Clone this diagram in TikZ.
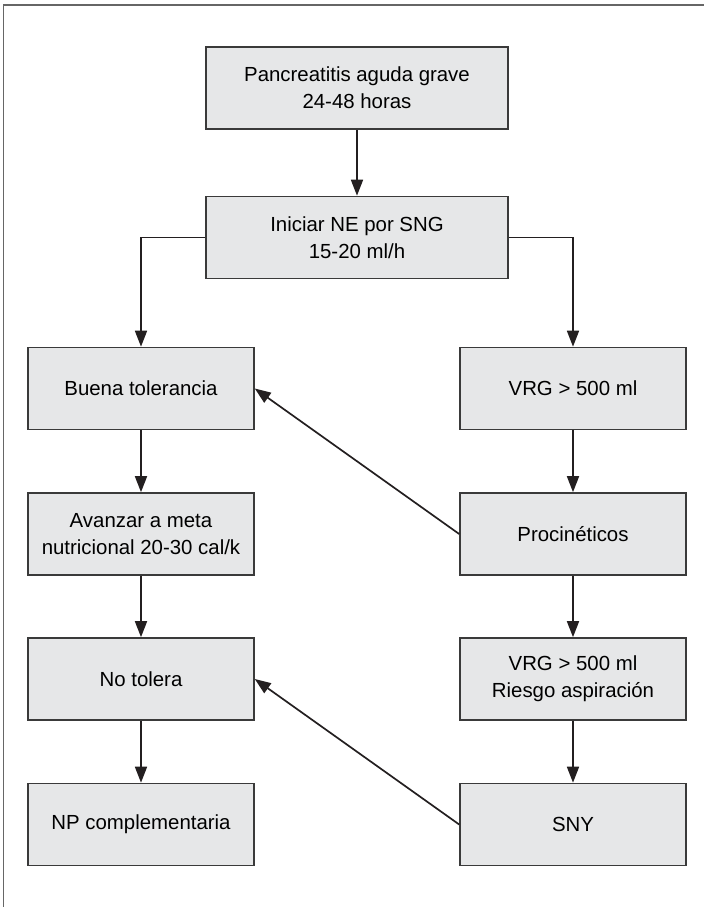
\documentclass[tikz,border=0pt]{standalone}
\usepackage{fontspec}
\setmainfont{Liberation Sans}
\usepackage{tikz}
\usetikzlibrary{arrows.meta}
\definecolor{boxfill}{HTML}{E6E7E8}
\definecolor{boxline}{HTML}{3A3A3A}
\definecolor{arrowline}{HTML}{231F20}
\begin{document}
\begin{tikzpicture}[x=0.5pt, y=-0.5pt,
  paso/.style={draw=boxline, fill=boxfill, line width=0.8pt, align=center,
    font=\fontsize{10.2}{13.5}\selectfont, inner sep=0pt},
  ancho/.style={paso, minimum width=151pt, minimum height=41pt},
  col/.style={paso, minimum width=113pt, minimum height=41pt},
  flecha/.style={draw=arrowline, line width=0.85pt, -{Triangle[length=8pt, width=6pt]}}]
\useasboundingbox (0,0) rectangle (704,907);
% marco
\draw[gray!80!black, line width=0.6pt] (704,5) -- (3.5,5) -- (3.5,907);
% centro
\node[ancho] (pag) at (357,88) {Pancreatitis aguda grave\\24-48 horas};
\node[ancho] (ini) at (357,237.5) {Iniciar NE por SNG\\15-20 ml/h};
% columna izquierda
\node[col] (bue) at (141,388.5) {Buena tolerancia};
\node[col] (ava) at (141,534) {Avanzar a meta\\nutricional 20-30 cal/k};
\node[col] (not) at (141,679) {No tolera};
\node[col] (npc) at (141,824.5) {NP complementaria};
% columna derecha
\node[col] (vrg) at (573,388.5) {VRG > 500 ml};
\node[col] (pro) at (573,534) {Procin\'eticos};
\node[col] (vra) at (573,679) {VRG > 500 ml\\Riesgo aspiraci\'on};
\node[col] (sny) at (573,824.5) {SNY};
\draw[flecha] (pag) -- (ini);
\draw[flecha] (ini.west) -| (bue.north);
\draw[flecha] (ini.east) -| (vrg.north);
\draw[flecha] (bue) -- (ava);
\draw[flecha] (ava) -- (not);
\draw[flecha] (not) -- (npc);
\draw[flecha] (vrg) -- (pro);
\draw[flecha] (pro) -- (vra);
\draw[flecha] (vra) -- (sny);
\draw[flecha] (pro.west) -- (bue.east);
\draw[flecha] (sny.west) -- (not.east);
\end{tikzpicture}
\end{document}
